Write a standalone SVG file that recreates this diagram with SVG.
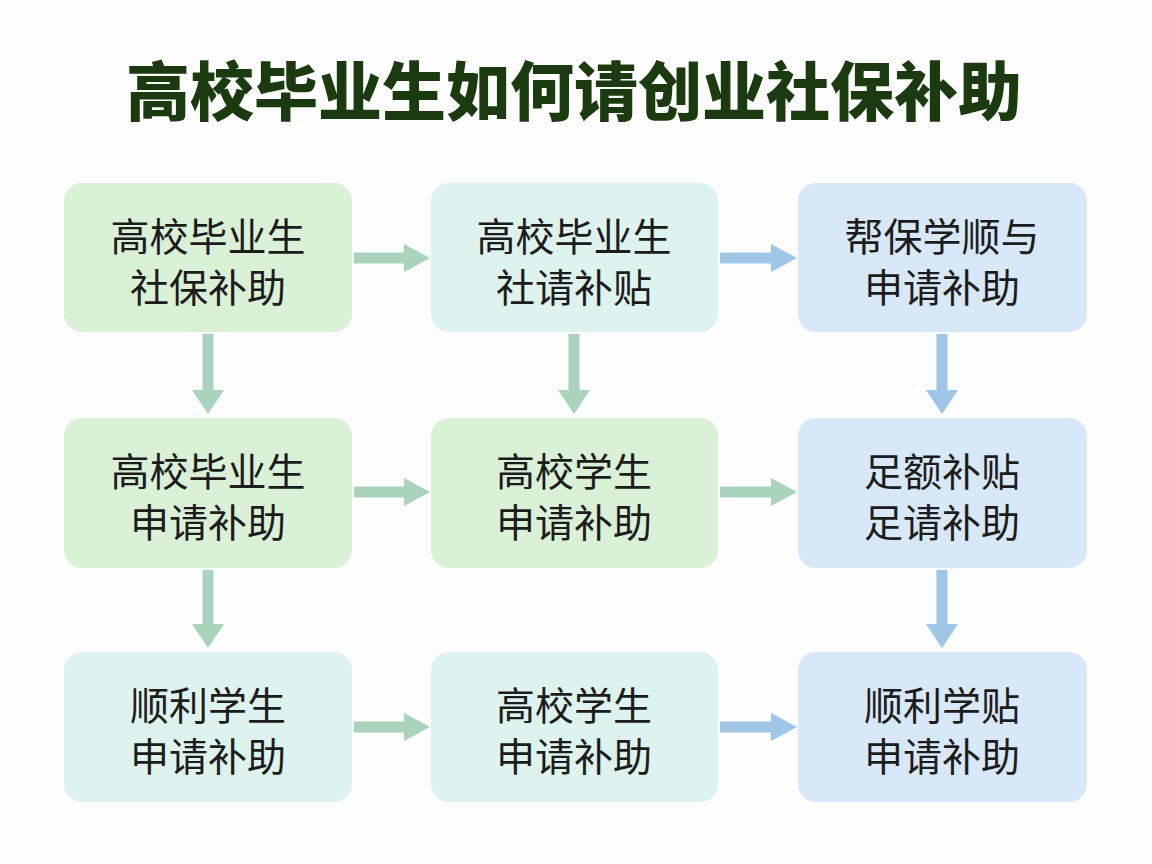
<svg xmlns="http://www.w3.org/2000/svg" width="1152" height="864" viewBox="0 0 1152 864">
<defs>
<style>
.t{font-family:"Noto Sans CJK SC","Noto Sans",sans-serif;font-size:39px;fill:#1c1c1c;text-anchor:middle}
.title{font-family:"Noto Sans CJK SC","Noto Sans",sans-serif;font-size:64px;font-weight:900;fill:#1c3a10;text-anchor:middle}
.g{fill:#daf0d7}
.c{fill:#def2ee}
.b{fill:#d8e8f8}
.ag{stroke:#a9d3bb;stroke-width:11;fill:none}
.ab{stroke:#9fc6e6;stroke-width:11;fill:none}
.hg{fill:#a9d3bb}
.hb{fill:#9fc6e6}
</style>
</defs>
<rect width="1152" height="864" fill="#fcfdfc"/>
<text class="title" x="574" y="115">高校毕业生如何请创业社保补助</text>
<g id="connectors">
<line class="ag" x1="354" y1="258" x2="406" y2="258"/><polygon class="hg" points="404,244 430,258 404,272"/>
<line class="ab" x1="720" y1="258" x2="773" y2="258"/><polygon class="hb" points="771,244 797,258 771,272"/>
<line class="ag" x1="354" y1="492" x2="406" y2="492"/><polygon class="hg" points="404,478 430,492 404,506"/>
<line class="ag" x1="720" y1="492" x2="773" y2="492"/><polygon class="hg" points="771,478 797,492 771,506"/>
<line class="ag" x1="354" y1="727" x2="406" y2="727"/><polygon class="hg" points="404,713 430,727 404,741"/>
<line class="ab" x1="720" y1="727" x2="773" y2="727"/><polygon class="hb" points="771,713 797,727 771,741"/>
<line class="ag" x1="208" y1="334" x2="208" y2="392"/><polygon class="hg" points="192,390 224,390 208,414"/>
<line class="ag" x1="574" y1="334" x2="574" y2="392"/><polygon class="hg" points="558,390 590,390 574,414"/>
<line class="ab" x1="942" y1="334" x2="942" y2="392"/><polygon class="hb" points="926,390 958,390 942,414"/>
<line class="ag" x1="208" y1="570" x2="208" y2="626"/><polygon class="hg" points="192,624 224,624 208,648"/>
<line class="ab" x1="942" y1="570" x2="942" y2="626"/><polygon class="hb" points="926,624 958,624 942,648"/>
</g>
<g id="n1"><rect class="g" x="64" y="183" width="288" height="149" rx="18"/><text class="t" x="208" y="251">高校毕业生</text><text class="t" x="208" y="302">社保补助</text></g>
<g id="n2"><rect class="c" x="431" y="183" width="287" height="149" rx="18"/><text class="t" x="574" y="251">高校毕业生</text><text class="t" x="574" y="302">社请补贴</text></g>
<g id="n3"><rect class="b" x="798" y="183" width="289" height="149" rx="18"/><text class="t" x="942" y="251">帮保学顺与</text><text class="t" x="942" y="302">申请补助</text></g>
<g id="n4"><rect class="g" x="64" y="418" width="288" height="150" rx="18"/><text class="t" x="208" y="486">高校毕业生</text><text class="t" x="208" y="537">申请补助</text></g>
<g id="n5"><rect class="g" x="431" y="418" width="287" height="150" rx="18"/><text class="t" x="574" y="486">高校学生</text><text class="t" x="574" y="537">申请补助</text></g>
<g id="n6"><rect class="b" x="798" y="418" width="289" height="150" rx="18"/><text class="t" x="942" y="486">足额补贴</text><text class="t" x="942" y="537">足请补助</text></g>
<g id="n7"><rect class="c" x="64" y="652" width="288" height="150" rx="18"/><text class="t" x="208" y="720">顺利学生</text><text class="t" x="208" y="771">申请补助</text></g>
<g id="n8"><rect class="c" x="431" y="652" width="287" height="150" rx="18"/><text class="t" x="574" y="720">高校学生</text><text class="t" x="574" y="771">申请补助</text></g>
<g id="n9"><rect class="b" x="798" y="652" width="289" height="150" rx="18"/><text class="t" x="942" y="720">顺利学贴</text><text class="t" x="942" y="771">申请补助</text></g>
</svg>
